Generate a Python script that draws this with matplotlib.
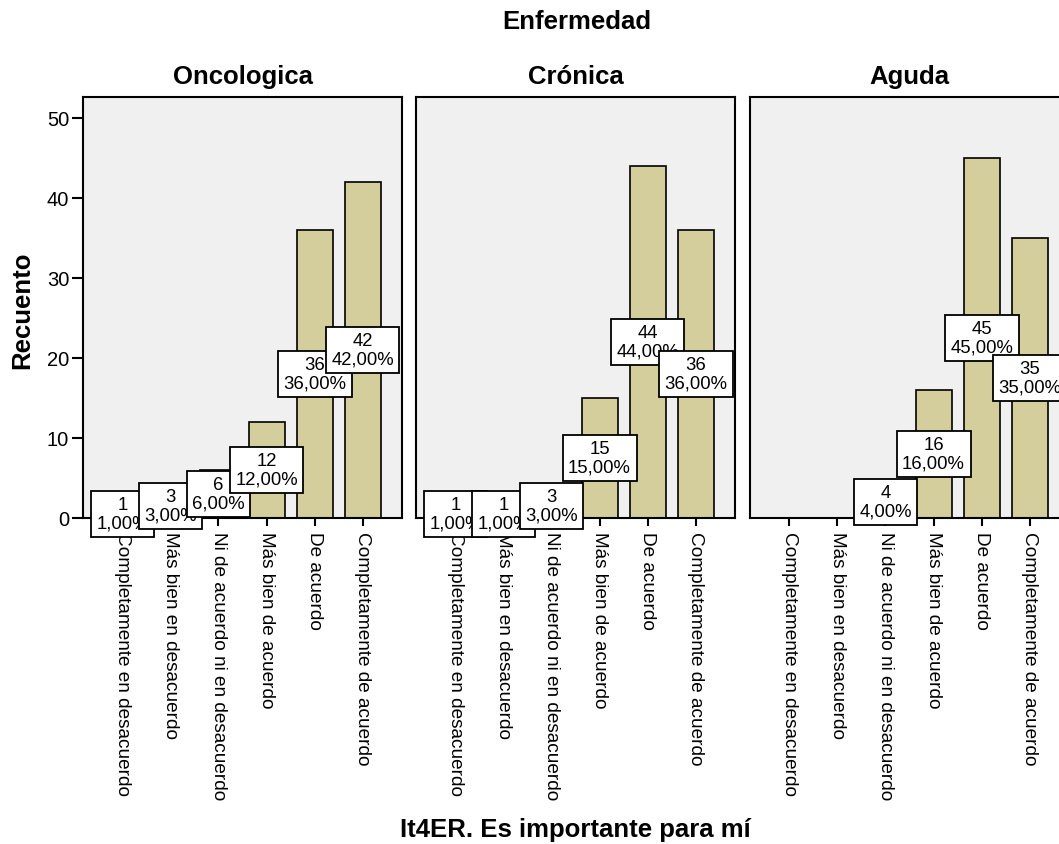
import matplotlib
matplotlib.use("Agg")
import matplotlib.pyplot as plt

plt.rcParams['font.family'] = ['Liberation Sans', 'DejaVu Sans']

categories = [
    "Completamente en desacuerdo",
    "Más bien en desacuerdo",
    "Ni de acuerdo ni en desacuerdo",
    "Más bien de acuerdo",
    "De acuerdo",
    "Completamente de acuerdo",
]
groups = ["Oncologica", "Crónica", "Aguda"]
oncologica = [1, 3, 6, 12, 36, 42]
cronica = [1, 1, 3, 15, 44, 36]
aguda = [0, 0, 4, 16, 45, 35]
series = [oncologica, cronica, aguda]
yticks = [0, 10, 20, 30, 40, 50]

bar_color = "#d3ce9b"
panel_bg = "#f0f0f0"

W, H = 1059, 845
fig = plt.figure(figsize=(W / 100, H / 100), dpi=100)

lefts = [83, 416, 750]
pw, top, bottom = 319, 98, 519

axes = []
for i, (name, vals) in enumerate(zip(groups, series)):
    ax = fig.add_axes([lefts[i] / W, (H - bottom) / H, pw / W, (bottom - top) / H])
    axes.append(ax)
    ax.set_facecolor(panel_bg)
    x = list(range(len(categories)))
    ax.bar(x, vals, width=0.75, color=bar_color, edgecolor="black", linewidth=1.2, zorder=2)
    ax.set_xlim(-0.82, 5.82)
    ax.set_ylim(0, 52.6)
    for s in ax.spines.values():
        s.set_linewidth(1.5)
        s.set_color("black")
    ax.set_xticks(x)
    ax.set_xticklabels(categories, rotation=-90, fontsize=13.7, va="top", ha="center")
    ax.tick_params(axis="x", length=6, width=1.5, direction="out", pad=3)
    if i == 0:
        ax.set_yticks(yticks)
        ax.tick_params(axis="y", length=8, width=1.5, direction="out", labelsize=14.5, pad=2)
    else:
        ax.set_yticks([])
    ax.set_title(name, fontsize=18.5, fontweight="bold", pad=10)
    # value labels: count and percentage in a boxed note at half bar height
    total = sum(vals)
    for j, v in enumerate(vals):
        if v == 0:
            continue
        pct = f"{v / total * 100:.2f}".replace(".", ",") + "%"
        ax.text(j, v / 2, f"{v}\n{pct}", ha="center", va="center", fontsize=13.3,
                linespacing=1.12, zorder=5 + j, clip_on=False,
                bbox=dict(boxstyle="square,pad=0.3", fc="white", ec="black", lw=1.3))

fig.text(577 / W, 1 - 22 / H, "Enfermedad", ha="center", va="center",
         fontsize=18.5, fontweight="bold")
fig.text(575 / W, 1 - 830 / H, "It4ER. Es importante para mí", ha="center", va="center",
         fontsize=18.5, fontweight="bold")
fig.text(22 / W, 1 - 310 / H, "Recuento", ha="center", va="center", rotation=90,
         fontsize=18.5, fontweight="bold")

fig.savefig("out.png", dpi=100)
